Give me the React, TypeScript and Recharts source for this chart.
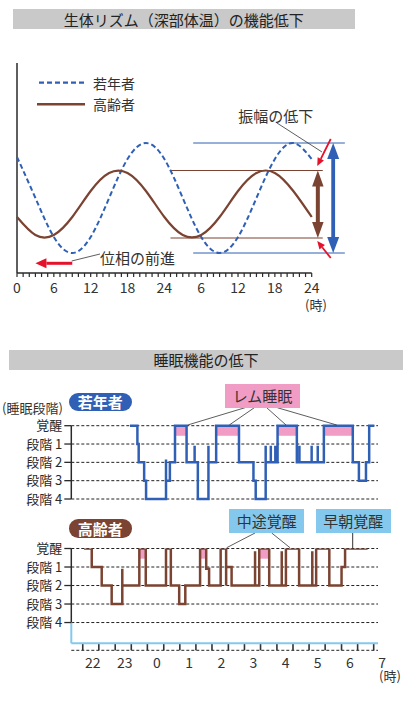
import React from 'react';
import { LineChart, Line, XAxis, YAxis, CartesianGrid, ReferenceLine, ReferenceArea } from 'recharts';

const FONT = '"Noto Sans CJK JP", "Noto Sans", sans-serif';
const BLUE = '#2f60b5';
const BROWN = '#7b4331';
const RED = '#e5122b';
const PINK = '#f19cc4';
const SKY = '#84c8ee';
const BAR_GRAY = '#c9c9c9';
const INK = '#2a2a2a';

// 深部体温（3時間ごとの読み取り値）
const tempHours = [0, 3, 6, 9, 12, 15, 18, 21, 24, 27, 30, 33, 36, 39, 42, 45, 48];
const youngTemp = [116, 75, 36, 20, 36, 75, 114, 130, 114, 75, 36, 20, 36, 75, 114, 130, 114];
const elderTemp = [56, 38, 38, 56, 82, 100, 100, 82, 56, 38, 38, 56, 82, 100, 100, 82, 56];
const youngRange = [20, 130];
const elderRange = [35, 102.5];
const tempDomain = [0, 48];
const tempMajorHours = [0, 6, 12, 18, 24, 30, 36, 42, 48];
const tempMajorLabels = ['0', '6', '12', '18', '24', '6', '12', '18', '24'];
const tempMinorTicks = Array.from({ length: 49 }, (_, i) => i);
const tempTickLen = 4; // in value units (1 unit = 1px)

// 睡眠段階 (0=覚醒 … 4=段階4)
const stageNames = ['覚醒', '段階 1', '段階 2', '段階 3', '段階 4'];
const youngSleepT = [23.16, 23.39, 23.43, 23.6, 23.66, 24.28, 24.28, 24.4, 24.56, 24.92, 25.17, 25.17, 25.27, 25.6, 25.6, 25.84, 26.55, 27.0, 27.07, 27.38, 27.38, 27.54, 27.54, 27.68, 27.68, 27.75, 28.35, 28.43, 28.43, 28.81, 28.81, 29.0, 29.0, 29.19, 30.09, 30.28, 30.5, 30.6, 30.76];
const youngSleepStage = [0, 1, 2, 3, 4, 1.85, 3, 2, 0, 2, 1.1, 2, 4, 1.1, 2, 0, 2, 3, 4, 1.1, 2, 1.1, 2, 1.1, 2, 0, 2, 1.1, 2, 1.1, 2, 1.1, 2, 0, 2, 3, 2, 0, 0];
const youngRem = [[24.56, 24.92], [25.84, 26.55], [27.75, 28.35], [29.19, 30.09]];

const elderSleepT = [21.73, 21.97, 22.28, 22.59, 22.92, 22.92, 23.45, 23.65, 24.28, 24.43, 24.69, 24.88, 25.34, 25.53, 25.62, 25.98, 26.15, 26.15, 26.32, 27.05, 27.05, 27.18, 27.49, 27.88, 27.88, 28.01, 28.42, 28.83, 28.83, 28.95, 29.36, 29.74, 29.85, 30.55];
const elderSleepStage = [0, 1, 2, 3, 1.1, 2, 0, 2, 0, 2, 3, 2, 0, 1.1, 2, 0, 2, 1, 2, 0.15, 2, 0, 2, 0.15, 2, 0, 2, 0.15, 2, 0, 2, 1, 0, 0];
const elderRem = [[23.45, 23.65], [25.34, 25.53], [27.18, 27.49]];

const sleepDomain = [21.334, 30.874];
const clockAxisAt = 5.12; // 時刻軸の位置（段階単位）
const clockTickEnd = 5.5;
const clockMinorTicks = [21.69, 22.19, 22.7, 23.2, 23.7, 24.21, 24.71, 25.21, 25.71, 26.22, 26.72, 27.22, 27.73, 28.23, 28.73, 29.23, 29.74, 30.24, 30.74];
const clockHours = [22, 23, 24, 25, 26, 27, 28, 29, 30, 31];
const clockLabels = ['22', '23', '0', '1', '2', '3', '4', '5', '6', '7'];

const tempData = tempHours.map((t, i) => ({ t, young: youngTemp[i], elder: elderTemp[i] }));
const youngSleep = youngSleepT.map((t, i) => ({ t, s: youngSleepStage[i] }));
const elderSleep = elderSleepT.map((t, i) => ({ t, s: elderSleepStage[i] }));

const TempTick = (props: any) => {
  const x = Number(props.x);
  const y = Number(props.y);
  const idx = tempMajorHours.indexOf(props.payload.value);
  return (
    <text x={x} y={y + 10} textAnchor="middle" dominantBaseline="central" fontSize={14} fill="#333" fontFamily={FONT}>
      {tempMajorLabels[idx]}
    </text>
  );
};

const ClockTick = (props: any) => {
  const x = Number(props.x);
  const y = Number(props.y);
  const idx = clockHours.indexOf(props.payload.value);
  return (
    <text x={x} y={y + 11.4} textAnchor="middle" dominantBaseline="central" fontSize={14} fill="#333" fontFamily={FONT}>
      {clockLabels[idx]}
    </text>
  );
};

const DoubleArrow = (p: any) => {
  const { color, shaft, head, headLen } = p;
  const x = Number(p.x1);
  const top = Math.min(Number(p.y1), Number(p.y2));
  const bot = Math.max(Number(p.y1), Number(p.y2));
  const d = `M${x},${top} L${x + head / 2},${top + headLen} L${x + shaft / 2},${top + headLen} L${x + shaft / 2},${bot - headLen} L${x + head / 2},${bot - headLen} L${x},${bot} L${x - head / 2},${bot - headLen} L${x - shaft / 2},${bot - headLen} L${x - shaft / 2},${top + headLen} L${x - head / 2},${top + headLen} Z`;
  return <path d={d} fill={color} />;
};

const Arrow = (p: any) => {
  const { color, width, headLen, headW } = p;
  const x1 = Number(p.x1);
  const y1 = Number(p.y1);
  const x2 = Number(p.x2);
  const y2 = Number(p.y2);
  const ang = Math.atan2(y2 - y1, x2 - x1);
  const bx = x2 - headLen * Math.cos(ang);
  const by = y2 - headLen * Math.sin(ang);
  const px = (-Math.sin(ang) * headW) / 2;
  const py = (Math.cos(ang) * headW) / 2;
  return (
    <g>
      <line x1={x1} y1={y1} x2={bx} y2={by} stroke={color} strokeWidth={width} />
      <path d={`M${x2},${y2} L${bx + px},${by + py} L${bx - px},${by - py} Z`} fill={color} />
    </g>
  );
};

const Txt = ({ x, y, size = 14, anchor = 'left', children, style }: any) => (
  <div
    style={{
      position: 'absolute',
      left: x,
      top: y,
      transform: anchor === 'center' ? 'translate(-50%, -50%)' : 'translateY(-50%)',
      fontSize: size,
      whiteSpace: 'nowrap',
      lineHeight: 1,
      color: '#333',
      ...style,
    }}
  >
    {children}
  </div>
);

const Box = ({ x, y, w, h, bg, size = 15, color = '#333', radius = 0, bold = false, children }: any) => (
  <div
    style={{
      position: 'absolute',
      left: x,
      top: y,
      width: w,
      height: h,
      background: bg,
      borderRadius: radius,
      color,
      fontSize: size,
      fontWeight: bold ? 700 : 400,
      display: 'flex',
      alignItems: 'center',
      justifyContent: 'center',
      whiteSpace: 'nowrap',
    }}
  >
    {children}
  </div>
);

const App = () => {
  return (
    <div style={{ position: 'absolute', left: 0, top: 0, width: 416, height: 714, background: '#fff', fontFamily: FONT, overflow: 'hidden' }}>
      <Box x={12.7} y={9} w={342} h={20} bg={BAR_GRAY} color="#222">生体リズム（深部体温）の機能低下</Box>

      <div style={{ position: 'absolute', left: 0, top: 0 }}>
        <LineChart width={416} height={330} data={tempData} margin={{ top: 63, right: 104.3, bottom: 23, left: 17 }}>
          <XAxis
            type="number"
            dataKey="t"
            domain={tempDomain}
            ticks={tempMajorHours}
            interval={0}
            tickLine={false}
            tickSize={0}
            tickMargin={0}
            height={30}
            axisLine={false}
            tick={<TempTick />}
          />
          <YAxis type="number" domain={[-tempTickLen, 210]} allowDataOverflow hide />
          <ReferenceLine segment={[{ x: 0, y: 0 }, { x: 0, y: 210 }]} stroke={INK} strokeWidth={1.5} />
          <ReferenceLine segment={[{ x: tempDomain[0], y: 0 }, { x: tempDomain[1], y: 0 }]} stroke={INK} strokeWidth={1.5} />
          {tempMinorTicks.map((h) => (
            <ReferenceLine key={'mt' + h} segment={[{ x: h, y: 0 }, { x: h, y: -tempTickLen }]} stroke={INK} strokeWidth={1.2} />
          ))}
          {youngRange.map((v) => (
            <ReferenceLine key={'yr' + v} segment={[{ x: 28.7, y: v }, { x: 53.4, y: v }]} stroke={BLUE} strokeWidth={1} ifOverflow="visible" />
          ))}
          {elderRange.map((v) => (
            <ReferenceLine key={'er' + v} segment={[{ x: 25, y: v }, { x: 49.8, y: v }]} stroke={BROWN} strokeWidth={1} ifOverflow="visible" />
          ))}
          <Line type="natural" dataKey="young" stroke={BLUE} strokeWidth={2} strokeDasharray="5 3" dot={false} isAnimationActive={false} />
          <Line type="natural" dataKey="elder" stroke={BROWN} strokeWidth={2.2} dot={false} isAnimationActive={false} />
          <ReferenceLine
            segment={[{ x: 49, y: elderRange[0] }, { x: 49, y: elderRange[1] }]}
            ifOverflow="visible"
            shape={(p: any) => <DoubleArrow {...p} color={BROWN} shaft={4} head={11.5} headLen={16} />}
          />
          <ReferenceLine
            segment={[{ x: 51.5, y: youngRange[0] }, { x: 51.5, y: youngRange[1] }]}
            ifOverflow="visible"
            shape={(p: any) => <DoubleArrow {...p} color={BLUE} shaft={3.8} head={12} headLen={16} />}
          />
          <ReferenceLine
            segment={[{ x: 51.1, y: 134 }, { x: 48.9, y: 107 }]}
            ifOverflow="visible"
            shape={(p: any) => <Arrow {...p} color={RED} width={1.8} headLen={8} headW={7} />}
          />
          <ReferenceLine
            segment={[{ x: 51.1, y: 15 }, { x: 48.9, y: 32 }]}
            ifOverflow="visible"
            shape={(p: any) => <Arrow {...p} color={RED} width={1.8} headLen={8} headW={7} />}
          />
          <ReferenceLine
            segment={[{ x: 9, y: 9.7 }, { x: 3, y: 9.7 }]}
            ifOverflow="visible"
            shape={(p: any) => <Arrow {...p} color={RED} width={3} headLen={11} headW={10} />}
          />
        </LineChart>
      </div>

      <Box x={9} y={350} w={394} h={19.5} bg={BAR_GRAY} color="#222">睡眠機能の低下</Box>

      <div style={{ position: 'absolute', left: 0, top: 410 }}>
        <LineChart width={400} height={105} data={youngSleep} margin={{ top: 15.7, right: 22, bottom: 16, left: 0 }}>
          <CartesianGrid vertical={false} stroke="#222" strokeDasharray="3 2" strokeWidth={1} />
          <XAxis type="number" dataKey="t" domain={sleepDomain} allowDataOverflow hide />
          <YAxis
            type="number"
            domain={[0, 4]}
            reversed
            ticks={[0, 1, 2, 3, 4]}
            interval={0}
            width={71.3}
            tickSize={7}
            tickMargin={2}
            tickFormatter={(v: number) => stageNames[v]}
            tick={{ fill: INK, fontSize: 13, fontFamily: FONT }}
            tickLine={{ stroke: INK, strokeWidth: 1.3 }}
            axisLine={{ stroke: INK, strokeWidth: 1.5 }}
          />
          {youngRem.map(([a, b]) => (
            <ReferenceArea key={'yrem' + a} x1={a} x2={b} y1={0.06} y2={0.55} fill={PINK} fillOpacity={1} stroke="none" />
          ))}
          <Line type="stepAfter" dataKey="s" stroke={BLUE} strokeWidth={2.5} dot={false} isAnimationActive={false} />
        </LineChart>
      </div>

      <div style={{ position: 'absolute', left: 0, top: 532 }}>
        <LineChart width={400} height={158} data={elderSleep} margin={{ top: 16.5, right: 22, bottom: 9.7, left: 0 }}>
          <CartesianGrid vertical={false} stroke="#222" strokeDasharray="3 2" strokeWidth={1} />
          <XAxis
            type="number"
            dataKey="t"
            domain={sleepDomain}
            allowDataOverflow
            ticks={clockHours}
            interval={0}
            tickLine={false}
            tickSize={0}
            tickMargin={0}
            height={30}
            axisLine={false}
            tick={<ClockTick />}
          />
          <YAxis
            type="number"
            domain={[0, clockTickEnd]}
            allowDataOverflow
            reversed
            ticks={[0, 1, 2, 3, 4]}
            interval={0}
            width={71.3}
            tickSize={7}
            tickMargin={2}
            tickFormatter={(v: number) => stageNames[v]}
            tick={{ fill: INK, fontSize: 13, fontFamily: FONT }}
            tickLine={{ stroke: INK, strokeWidth: 1.3 }}
            axisLine={false}
          />
          <ReferenceLine segment={[{ x: sleepDomain[0], y: 0 }, { x: sleepDomain[0], y: 4 }]} stroke={INK} strokeWidth={1.5} />
          <ReferenceLine segment={[{ x: sleepDomain[0], y: 4 }, { x: sleepDomain[0], y: clockAxisAt }]} stroke={SKY} strokeWidth={2} />
          {clockMinorTicks.map((t) => (
            <ReferenceLine key={'ct' + t} segment={[{ x: t, y: clockAxisAt }, { x: t, y: clockTickEnd }]} stroke="#333" strokeWidth={1.6} />
          ))}
          <ReferenceLine segment={[{ x: sleepDomain[0], y: clockAxisAt }, { x: sleepDomain[1], y: clockAxisAt }]} stroke={SKY} strokeWidth={2} />
          {elderRem.map(([a, b]) => (
            <ReferenceArea key={'erem' + a} x1={a} x2={b} y1={0.06} y2={0.55} fill={PINK} fillOpacity={1} stroke="none" />
          ))}
          <Line type="stepAfter" dataKey="s" stroke={BROWN} strokeWidth={2.5} dot={false} isAnimationActive={false} />
        </LineChart>
      </div>

      <svg width={416} height={714} style={{ position: 'absolute', left: 0, top: 0, pointerEvents: 'none' }}>
        <line x1={39} y1={82.7} x2={85} y2={82.7} stroke={BLUE} strokeWidth={2.2} strokeDasharray="5 3" />
        <line x1={37} y1={104.3} x2={85} y2={104.3} stroke={BROWN} strokeWidth={2.5} />
        <line x1={277} y1={123} x2={322} y2={152} stroke="#333" strokeWidth={0.8} />
        <line x1={71.7} y1={261} x2={100} y2={254} stroke="#333" strokeWidth={0.8} />
        <line x1={245} y1={407.7} x2={187.7} y2={425} stroke="#333" strokeWidth={0.8} />
        <line x1={254.3} y1={407.7} x2={229.3} y2={425} stroke="#333" strokeWidth={0.8} />
        <line x1={266.7} y1={407.7} x2={286} y2={425} stroke="#333" strokeWidth={0.8} />
        <line x1={277.3} y1={407.7} x2={336.7} y2={425} stroke="#333" strokeWidth={0.8} />
        <line x1={255} y1={533} x2={226.7} y2={547.7} stroke="#333" strokeWidth={0.8} />
        <line x1={271.7} y1={533} x2={290} y2={547.7} stroke="#333" strokeWidth={0.8} />
        <line x1={352.7} y1={533} x2={352.7} y2={548.5} stroke="#333" strokeWidth={1} />
      </svg>

      <Txt x={93} y={82.7} size={14}>若年者</Txt>
      <Txt x={93} y={104.3} size={14}>高齢者</Txt>
      <Txt x={275.8} y={115} size={15} anchor="center">振幅の低下</Txt>
      <Txt x={100} y={256.7} size={15}>位相の前進</Txt>
      <Txt x={316} y={304} size={13} anchor="center">(時)</Txt>

      <Txt x={2} y={406.7} size={13}>(睡眠段階)</Txt>
      <Box x={69} y={392.7} w={62.7} h={18.3} bg={BLUE} color="#fff" size={15} radius={9.2} bold>若年者</Box>
      <Box x={225} y={384} w={75} h={23.7} bg={PINK}>レム睡眠</Box>

      <Box x={69} y={519.3} w={62.7} h={18.3} bg={BROWN} color="#fff" size={15} radius={9.2} bold>高齢者</Box>
      <Box x={229.3} y={509} w={74.7} h={23.7} bg={SKY}>中途覚醒</Box>
      <Box x={316} y={509} w={74.7} h={23.7} bg={SKY}>早朝覚醒</Box>
      <Txt x={390} y={675} size={13} anchor="center">(時)</Txt>
    </div>
  );
};

export default App;
